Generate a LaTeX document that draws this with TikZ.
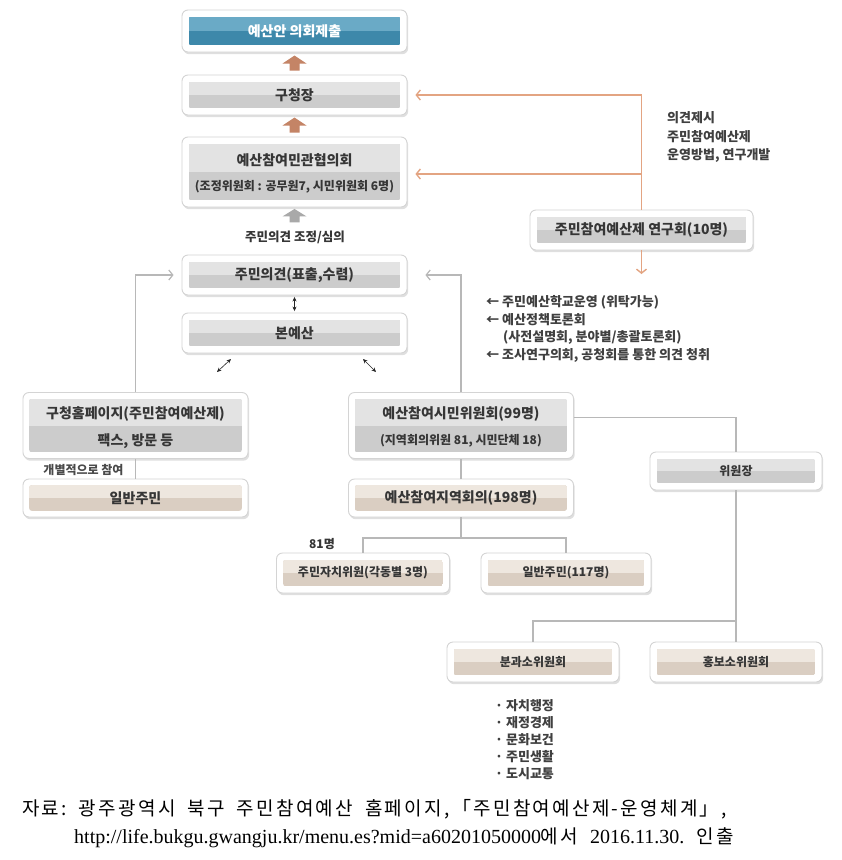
\documentclass[tikz,border=0pt]{standalone}
\usepackage{fontspec}
\setmainfont{Noto Sans CJK KR}
\newfontfamily\serifl{Liberation Serif}
\newfontfamily\capkr{Noto Sans CJK KR}[LetterSpace=12]
\usetikzlibrary{calc,shadows,arrows.meta}

\definecolor{graytop}{HTML}{E3E3E3}
\definecolor{graybot}{HTML}{CCCCCC}
\definecolor{beigetop}{HTML}{EEE7DF}
\definecolor{beigebot}{HTML}{DACEC2}
\definecolor{bluetop}{HTML}{6AAAC6}
\definecolor{bluebot}{HTML}{3D88AA}
\definecolor{orangeln}{HTML}{E3A482}
\definecolor{brownarr}{HTML}{C48466}
\definecolor{grayarr}{HTML}{A9A9A9}
\definecolor{grayln}{HTML}{B8B8B8}
\definecolor{txt}{HTML}{363636}

\tikzset{
  outerbox/.style={draw=black!17, fill=white, rounded corners=6pt, line width=0.9pt, inner sep=0pt,
    drop shadow={opacity=0.25, shadow xshift=1.2pt, shadow yshift=-2.2pt}},
  lbl/.style={inner sep=0pt, text=txt, font=\bfseries\fontsize{14}{16}\selectfont},
  lblmid/.style={inner sep=0pt, text=txt, font=\bfseries\fontsize{12}{14}\selectfont},
  lblsm/.style={inner sep=0pt, text=txt, font=\bfseries\fontsize{12}{14}\selectfont},
  note/.style={inner sep=0pt, anchor=west, text=txt!95, font=\bfseries\fontsize{13}{15}\selectfont},
  gline/.style={draw=grayln, line width=1.2pt},
  garrow/.style={gline, -{Straight Barb[length=4pt,width=10pt]}},
  oline/.style={draw=orangeln, line width=1.4pt},
  oarrow/.style={oline, -{Straight Barb[length=4pt,width=10pt]}},
  thinarr/.style={draw=black!85, line width=0.6pt, {Stealth[length=4.5pt,width=4pt]}-{Stealth[length=4.5pt,width=4pt]}},
  captxt/.style={inner sep=0pt, anchor=base west, text=black, font=\capkr\fontsize{19}{21}\selectfont},
}

\newcommand\barbox[8]{%
  \node[outerbox, minimum width=#4, minimum height=#5] (#1) at (#2,#3) {};
  \begin{scope}
    \clip[rounded corners=3pt] ($(#1.south west)+(#8,#8)$) rectangle ($(#1.north east)+(-#8,-#8)$);
    \fill[#7] ($(#1.south west)+(#8,#8)$) rectangle ($(#1.north east)+(-#8,-#8)$);
    \fill[#6] ($(#1.west)+(#8,0pt)$) rectangle ($(#1.north east)+(-#8,-#8)$);
  \end{scope}}

\newcommand\bigup[2]{%
  \fill[#2] ($(#1)+(-5pt,4pt)$) -- ($(#1)+(-5pt,11pt)$) -- ($(#1)+(-12pt,11pt)$) -- ($(#1)+(0pt,19pt)$)
    -- ($(#1)+(12pt,11pt)$) -- ($(#1)+(5pt,11pt)$) -- ($(#1)+(5pt,4pt)$) -- cycle;}

\begin{document}
\begin{tikzpicture}[x=1pt,y=-1pt]
\useasboundingbox (0,0) rectangle (842,860);
\fill[white] (0,0) rectangle (842,860);

% ---- central column ----
\barbox{top}{294.5}{31}{225}{42}{bluetop}{bluebot}{7pt}
\node[lbl, text=white] (topt) at (top) {예산안 의회제출};

\barbox{kc}{294.5}{95}{225}{40}{graytop}{graybot}{7pt}
\node[lbl] (kct) at (kc) {구청장};

\barbox{gov}{294.5}{172}{225}{70}{graytop}{graybot}{7pt}
\node[lbl] (govt1) at (294.5,160) {예산참여민관협의회};
\node[lblsm] (govt2) at (294.5,187) {(조정위원회 : 공무원7, 시민위원회 6명)};

\bigup{kc.north}{brownarr}
\bigup{gov.north}{brownarr}

\node[lblmid, font=\bfseries\fontsize{12.5}{14}\selectfont] (adj) at (295,237) {주민의견 조정/심의};
\fill[grayarr] ($(gov.south)+(0,-1.5pt)$) -- ($(gov.south)+(12pt,-9pt)$) -- ($(gov.south)+(5pt,-9pt)$)
  -- ($(gov.south)+(5pt,-15pt)$) -- ($(gov.south)+(-5pt,-15pt)$) -- ($(gov.south)+(-5pt,-9pt)$)
  -- ($(gov.south)+(-12pt,-9pt)$) -- cycle;

\barbox{opin}{294.5}{275}{225}{40}{graytop}{graybot}{7pt}
\node[lbl] (opint) at (opin) {주민의견(표출,수렴)};

\barbox{main}{294.5}{333}{225}{40}{graytop}{graybot}{7pt}
\node[lbl] (maint) at (main) {본예산};

\draw[thinarr, shorten <=1.5pt, shorten >=1.5pt] (opin.south) -- (main.north);

\coordinate (dl1) at (217,372);
\coordinate (dl2) at (231,359);
\coordinate (dr1) at (363,359);
\coordinate (dr2) at (376,372);
\draw[thinarr] (dl1) -- (dl2);
\draw[thinarr] (dr1) -- (dr2);

% ---- left column ----
\barbox{home}{135.5}{425.5}{225}{66}{graytop}{graybot}{6.5pt}
\node[lbl] (homet1) at (135.5,414) {구청홈페이지(주민참여예산제)};
\node[lbl] (homet2) at (135.5,441) {팩스, 방문 등};

\barbox{res}{135.5}{498}{225}{38}{beigetop}{beigebot}{6.5pt}
\node[lbl] (rest) at (res) {일반주민};

\draw[garrow, shorten >=8pt] (home.north) |- (opin.west);
\draw[gline] (home.south) -- (res.north);
\node[lblsm, text=txt!90] (indiv) at (83.5,470) {개별적으로 참여};

% ---- middle column ----
\barbox{cit}{461}{425.5}{225}{66}{graytop}{graybot}{6.5pt}
\node[lbl] (citt1) at (461,414) {예산참여시민위원회(99명)};
\node[lblsm] (citt2) at (461,441) {(지역회의위원 81, 시민단체 18)};

\barbox{reg}{461}{498}{225}{38}{beigetop}{beigebot}{6.5pt}
\node[lbl] (regt) at (reg) {예산참여지역회의(198명)};

\draw[garrow, shorten >=18pt] (cit.north) |- (opin.east);
\draw[gline] (cit.south) -- (reg.north);

\barbox{jm}{363}{573}{173}{40}{beigetop}{beigebot}{7pt}
\node[lblmid] (jmt) at (jm) {주민자치위원(각동별 3명)};
\barbox{il}{566}{573}{170}{40}{beigetop}{beigebot}{7pt}
\node[lblmid] (ilt) at (il) {일반주민(117명)};

\coordinate (split1) at (461,538);
\draw[gline] (reg.south) -- (split1);
\draw[gline] (jm.north) |- (split1) -| (il.north);
\node[lblsm] (n81) at (322,544) {81명};

% ---- right column ----
\barbox{chair}{736}{471}{172}{38}{graytop}{graybot}{7pt}
\node[lblmid] (chairt) at (chair) {위원장};
\draw[gline] ($(cit.east)+(0,8pt)$) -| (chair.north);

\barbox{sub}{533}{662}{172}{40}{beigetop}{beigebot}{7pt}
\node[lblmid] (subt) at (sub) {분과소위원회};
\barbox{pr}{736}{662}{172}{40}{beigetop}{beigebot}{7pt}
\node[lblmid] (prt) at (pr) {홍보소위원회};

\coordinate (split2) at (736,621);
\draw[gline] (chair.south) -- (pr.north);
\draw[gline] (sub.north) |- (split2);

\node[note] (b1) at (495,706) {· 자치행정};
\node[note] (b2) at (495,723) {· 재정경제};
\node[note] (b3) at (495,740) {· 문화보건};
\node[note] (b4) at (495,757) {· 주민생활};
\node[note] (b5) at (495,774) {· 도시교통};

% ---- study group ----
\barbox{study}{641.5}{230}{223}{40}{graytop}{graybot}{7pt}
\node[lbl] (studyt) at (study) {주민참여예산제 연구회(10명)};
\draw[oarrow, shorten >=8pt] (study.north) |- (kc.east);
\draw[oarrow, shorten >=8pt] (study.north) |- ($(gov.east)+(0,-2pt)$);
\coordinate (studyout) at (641.5,274);
\draw[oarrow] (study.south) -- (studyout);

\node[note] (r1) at (667,118) {의견제시};
\node[note] (r2) at (667,137) {주민참여예산제};
\node[note] (r3) at (667,155) {운영방법, 연구개발};

\node[note] (m1) at (486,302) {← 주민예산학교운영 (위탁가능)};
\node[note] (m2) at (486,320) {← 예산정책토론회};
\node[note] (m3) at (503,337) {(사전설명회, 분야별/총괄토론회)};
\node[note] (m4) at (486,355) {← 조사연구의회, 공청회를 통한 의견 청취};

% ---- caption ----
\node[captxt] (cap1) at (22,815) {자료:\hspace{12pt}광주광역시\hspace{12pt}북구\hspace{12pt}주민참여예산\hspace{12pt}홈페이지,\hspace{3pt}「주민참여예산제-운영체계」,};
\node[captxt] (cap2) at (74,843) {{\serifl\fontsize{20}{22}\selectfont http://life.bukgu.gwangju.kr/menu.es?mid=a60201050000}에서\hspace{12pt}{\serifl\fontsize{20}{22}\selectfont 2016.11.30.}\hspace{12pt}인출};
\end{tikzpicture}
\end{document}
